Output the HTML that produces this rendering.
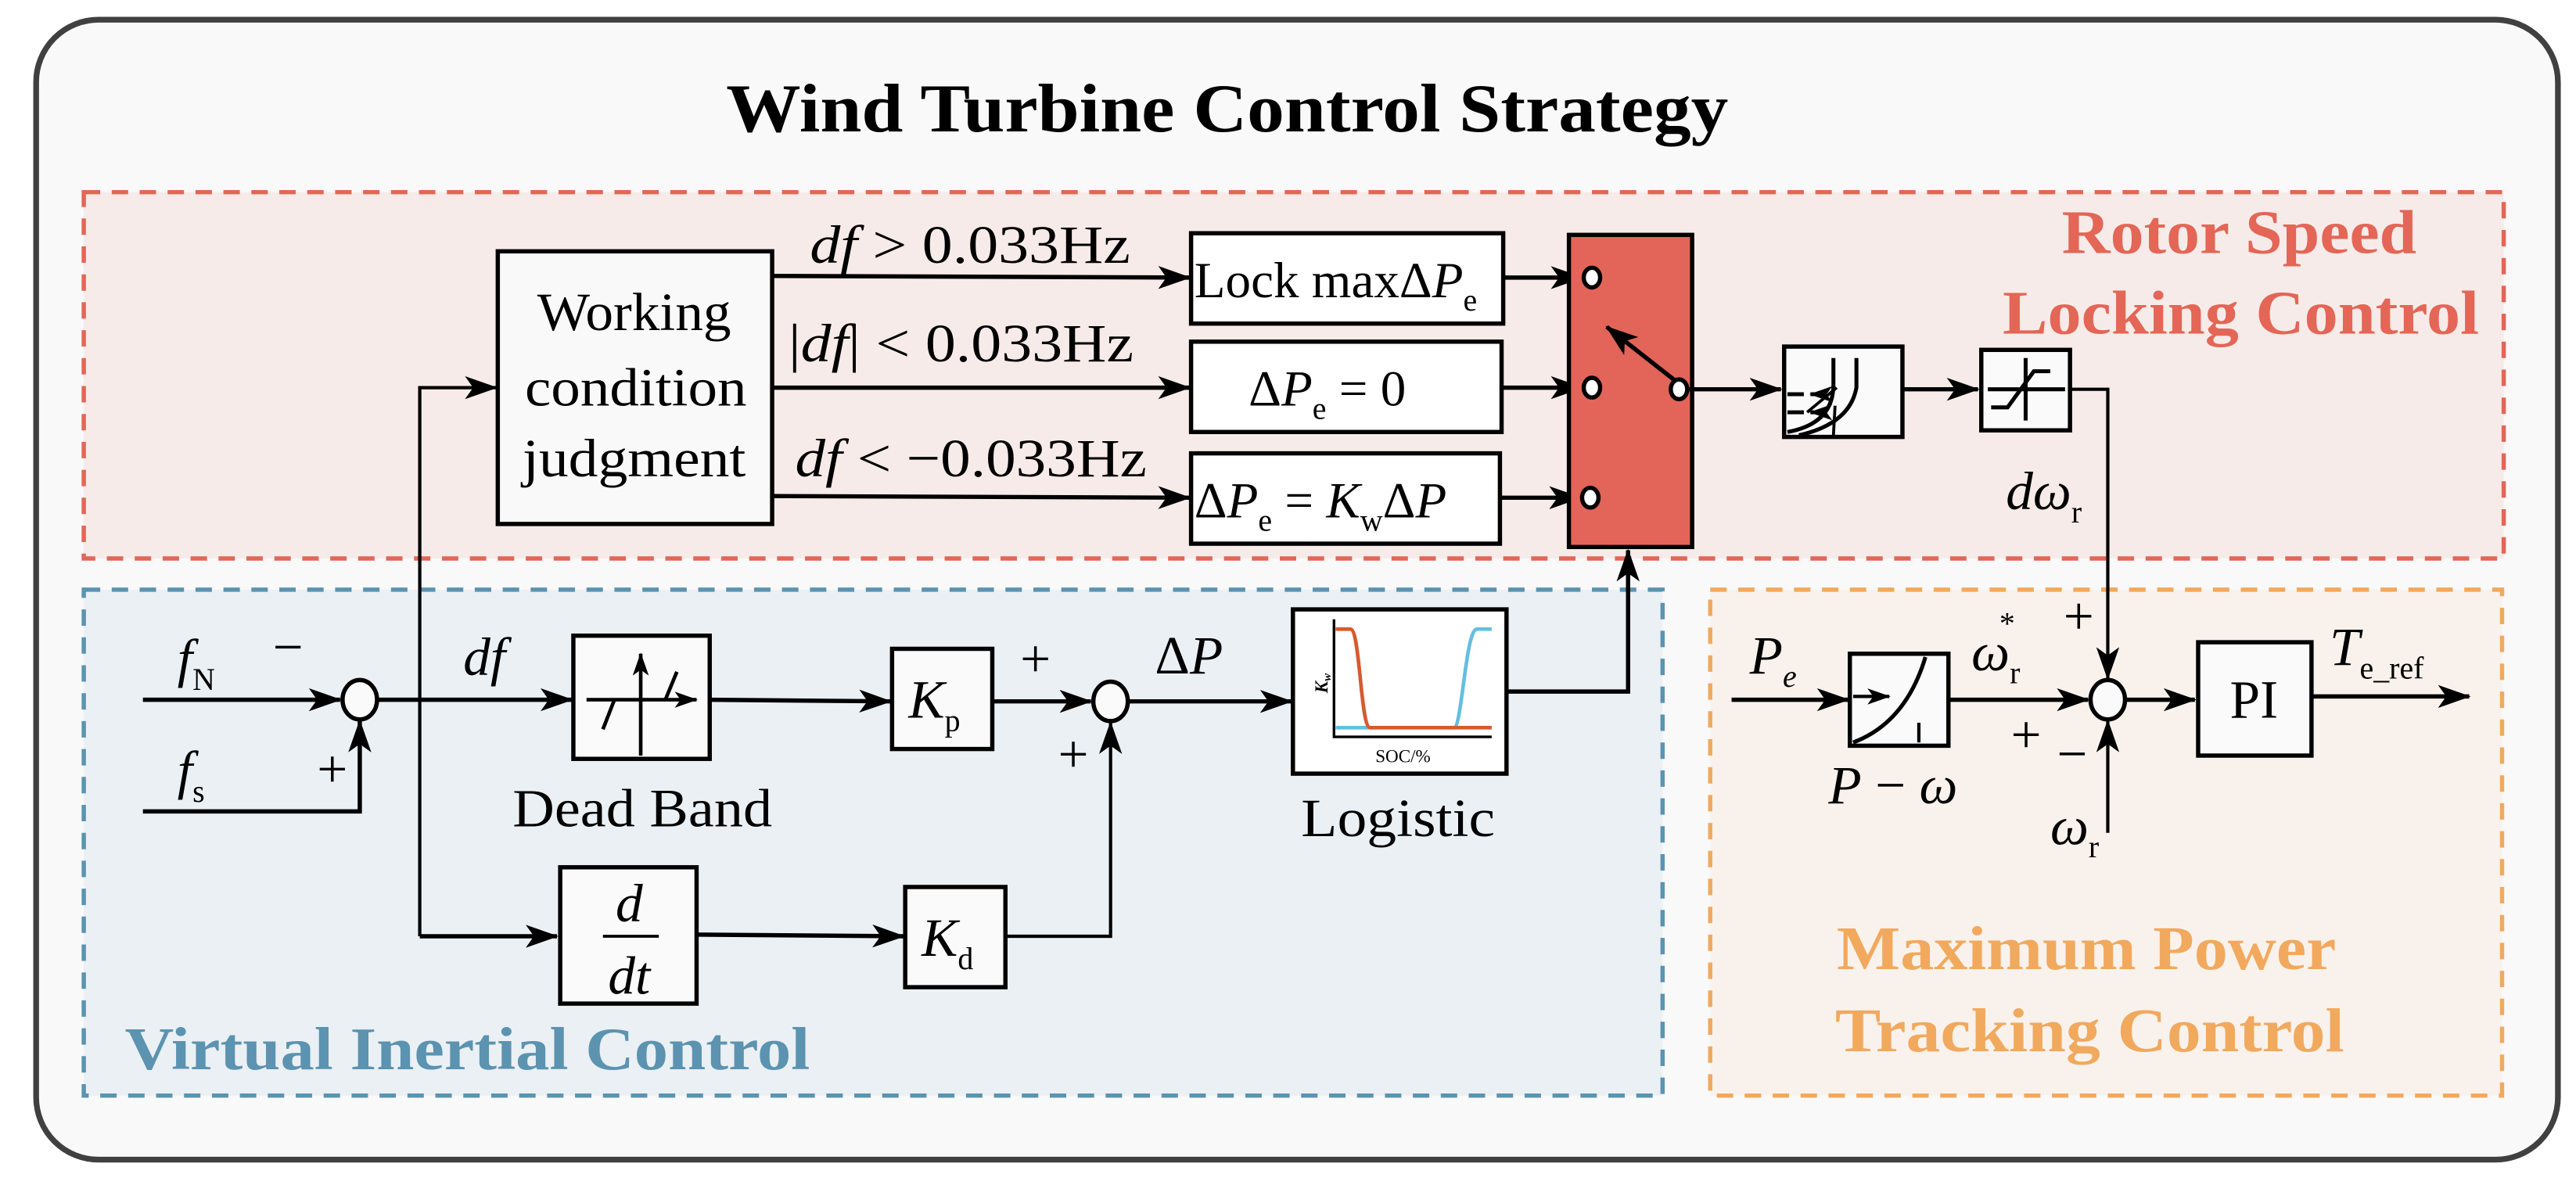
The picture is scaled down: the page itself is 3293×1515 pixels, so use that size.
<!DOCTYPE html>
<html><head><meta charset="utf-8"><style>
html,body{margin:0;padding:0;background:#fff;}
svg{display:block;}
text{font-family:"Liberation Serif","Times New Roman",Times,serif;}
</style></head><body>
<svg width="3293" height="1515" viewBox="0 0 1568 721.43" preserveAspectRatio="none" xmlns="http://www.w3.org/2000/svg" font-family="Liberation Serif, Times New Roman, serif">
<defs>
<marker id="a" viewBox="0 0 20 14" refX="19" refY="7" markerWidth="20" markerHeight="14" markerUnits="userSpaceOnUse" orient="auto"><path d="M0,0 L20,7 L0,14 L5,7z" fill="#000"/></marker>
<marker id="s" viewBox="0 0 20 14" refX="19" refY="7" markerWidth="14" markerHeight="10" markerUnits="userSpaceOnUse" orient="auto"><path d="M0,0 L20,7 L0,14 L5,7z" fill="#000"/></marker>
</defs>
<rect x="0" y="0" width="1568" height="721.43" fill="#fff"/>
<rect x="22" y="12" width="1535" height="694" rx="38" ry="38" fill="#f9f9f9" stroke="#404040" stroke-width="3.5"/>
<text x="747" y="80" font-size="42" font-weight="bold" text-anchor="middle" textLength="610" lengthAdjust="spacingAndGlyphs">Wind Turbine Control Strategy</text>

<!-- regions -->
<rect x="51" y="117" width="1473" height="223" fill="#f7ebe9" stroke="#e36656" stroke-width="2.6" stroke-dasharray="10,7"/>
<rect x="51" y="359" width="961" height="308" fill="#ebf0f4" stroke="#5b93b0" stroke-width="2.6" stroke-dasharray="10,7"/>
<rect x="1041" y="359" width="482" height="308" fill="#f9f2ec" stroke="#f1a95e" stroke-width="2.6" stroke-dasharray="10,7"/>

<text x="1363" y="154" font-size="38" font-weight="bold" fill="#e36656" text-anchor="middle" textLength="216" lengthAdjust="spacingAndGlyphs">Rotor Speed</text>
<text x="1364" y="203" font-size="38" font-weight="bold" fill="#e36656" text-anchor="middle" textLength="290" lengthAdjust="spacingAndGlyphs">Locking Control</text>
<text x="76" y="651" font-size="37" font-weight="bold" fill="#5b93b0" textLength="417" lengthAdjust="spacingAndGlyphs">Virtual Inertial Control</text>
<text x="1270" y="590" font-size="38" font-weight="bold" fill="#f1a95e" text-anchor="middle" textLength="304" lengthAdjust="spacingAndGlyphs">Maximum Power</text>
<text x="1272" y="640" font-size="38" font-weight="bold" fill="#f1a95e" text-anchor="middle" textLength="310" lengthAdjust="spacingAndGlyphs">Tracking Control</text>

<g fill="none" stroke="#000" stroke-width="2.6">
<rect x="303" y="153" width="167" height="166" fill="#f9f9f9"/>
<line x1="470" y1="168" x2="724" y2="169" marker-end="url(#a)"/>
<line x1="470" y1="236" x2="724" y2="236" marker-end="url(#a)"/>
<line x1="470" y1="302" x2="724" y2="303" marker-end="url(#a)"/>
<rect x="725" y="142" width="190" height="55" fill="#fff"/>
<rect x="725" y="208" width="189" height="55" fill="#fff"/>
<rect x="725" y="276" width="188" height="55" fill="#fff"/>
<line x1="915" y1="169" x2="963" y2="169" marker-end="url(#a)"/>
<line x1="914" y1="236" x2="963" y2="236" marker-end="url(#a)"/>
<line x1="913" y1="303" x2="962" y2="303" marker-end="url(#a)"/>
<rect x="955" y="143" width="75" height="190" fill="#e3655a"/>
<ellipse cx="969" cy="169" rx="5" ry="6" fill="#fff"/>
<ellipse cx="969" cy="236" rx="5" ry="6" fill="#fff"/>
<ellipse cx="968" cy="303" rx="5" ry="6" fill="#fff"/>
<line x1="1020" y1="232" x2="978" y2="199" marker-end="url(#a)"/>
<ellipse cx="1022" cy="237" rx="5" ry="6" fill="#fff"/>
<line x1="1028" y1="237" x2="1084" y2="237" marker-end="url(#a)"/>
<rect x="1086" y="211" width="72" height="55" fill="#fafafa"/>
<line x1="1158" y1="237" x2="1204" y2="237" marker-end="url(#a)"/>
<rect x="1206" y="213" width="54" height="49" fill="#fafafa"/>
<polyline points="1260,237 1283,237 1283,413" stroke-width="2" marker-end="url(#a)"/>
<g stroke-width="2.4">
<path d="M1116,218 L1116,234 Q1116,258 1088,263"/>
<path d="M1130,218 L1130,236 Q1126,258 1095,265"/>
<line x1="1088" y1="240" x2="1098" y2="240"/><line x1="1088" y1="251" x2="1098" y2="251"/>
<line x1="1117" y1="247" x2="1116" y2="265" stroke-width="1.8"/>
<line x1="1110" y1="240" x2="1102" y2="240" marker-end="url(#s)"/>
<line x1="1110" y1="251" x2="1102" y2="251" marker-end="url(#s)"/>
<line x1="1100" y1="251" x2="1118" y2="236" stroke-width="1.8"/>
<line x1="1210" y1="237" x2="1257" y2="237"/>
<line x1="1233" y1="218" x2="1233" y2="256"/>
<polyline points="1212,248 1222,248 1238,226 1248,226"/>
</g>
<polyline points="916,421 991,421 991,335" marker-end="url(#a)"/>

<line x1="87" y1="426" x2="207" y2="426" marker-end="url(#a)"/>
<polyline points="87,494 219,494 219,439" marker-end="url(#a)"/>
<ellipse cx="219" cy="426" rx="10.5" ry="12" fill="#fafafa"/>
<line x1="230" y1="426" x2="348" y2="426" marker-end="url(#a)"/>
<polyline points="255.5,570 255.5,236 302,236" stroke-width="2" marker-end="url(#a)"/>
<line x1="255.5" y1="570" x2="339" y2="570" marker-end="url(#a)"/>
<rect x="349" y="387" width="83" height="75" fill="#fafafa"/>
<g stroke-width="2.2">
<line x1="390" y1="460" x2="390" y2="398" marker-end="url(#s)"/>
<line x1="357" y1="426" x2="424" y2="426" marker-end="url(#s)"/>
<line x1="367" y1="444" x2="374" y2="426"/>
<line x1="405" y1="426" x2="412" y2="409"/>
</g>
<line x1="432" y1="426" x2="542" y2="427" marker-end="url(#a)"/>
<rect x="543" y="395" width="61" height="61" fill="#fafafa"/>
<line x1="604" y1="427" x2="664" y2="427" marker-end="url(#a)"/>
<ellipse cx="676" cy="427" rx="10.5" ry="12" fill="#fafafa"/>
<rect x="341" y="528" width="83" height="83" fill="#fafafa"/>
<line x1="424" y1="569" x2="550" y2="570" marker-end="url(#a)"/>
<rect x="551" y="540" width="61" height="61" fill="#fafafa"/>
<polyline points="612,570 676,570 676,440" stroke-width="2" marker-end="url(#a)"/>
<line x1="687" y1="427" x2="786" y2="427" marker-end="url(#a)"/>
<rect x="787" y="371" width="130" height="100" fill="#fff"/>
<line x1="367" y1="570" x2="401" y2="570" stroke-width="1.8"/>

<line x1="1054" y1="426" x2="1125" y2="426" marker-end="url(#a)"/>
<rect x="1126" y="398" width="60" height="56" fill="#fafafa"/>
<g stroke-width="2">
<path d="M1128,452 Q1160,440 1172,400" stroke-width="2.4"/>
<line x1="1168" y1="440" x2="1168" y2="452"/>
<line x1="1128" y1="424" x2="1150" y2="424" marker-end="url(#s)"/>
</g>
<line x1="1186" y1="426" x2="1271" y2="426" marker-end="url(#a)"/>
<ellipse cx="1283" cy="426" rx="10.5" ry="12" fill="#fafafa"/>
<line x1="1283" y1="507" x2="1283" y2="439" stroke-width="2" marker-end="url(#a)"/>
<line x1="1294" y1="426" x2="1336" y2="426" marker-end="url(#a)"/>
<rect x="1338" y="391" width="69" height="69" fill="#fafafa"/>
<line x1="1407" y1="424" x2="1503" y2="424" marker-end="url(#a)"/>
</g>

<g fill="none">
<polyline points="812,377 812,448.6 908,448.6" stroke="#000" stroke-width="1.6"/>
<path d="M813,443 L885,443 C890,443 892,383 899,383 L908,383" stroke="#63bfdf" stroke-width="2.2"/>
<path d="M813,383 L822,383 C828,383 828,443 834,443 L908,443" stroke="#d65a2e" stroke-width="2.2"/>
</g>
<text x="854" y="464" font-size="11" text-anchor="middle">SOC/%</text>
<text x="0" y="0" font-size="11" font-style="italic" font-weight="bold" transform="translate(808,422) rotate(-90)">K<tspan font-size="7" dy="2">w</tspan></text>

<g font-size="33" fill="#000">
<text x="386" y="201" text-anchor="middle" textLength="118" lengthAdjust="spacingAndGlyphs">Working</text>
<text x="387" y="247" text-anchor="middle" textLength="135" lengthAdjust="spacingAndGlyphs">condition</text>
<text x="386" y="290" text-anchor="middle" textLength="136" lengthAdjust="spacingAndGlyphs">judgment</text>
<text x="493" y="160" textLength="195" lengthAdjust="spacingAndGlyphs"><tspan font-style="italic">df</tspan> &gt; 0.033Hz</text>
<text x="480" y="220" textLength="210" lengthAdjust="spacingAndGlyphs">|<tspan font-style="italic">df</tspan>| &lt; 0.033Hz</text>
<text x="484" y="290" textLength="214" lengthAdjust="spacingAndGlyphs"><tspan font-style="italic">df</tspan> &lt; −0.033Hz</text>
<text x="727" y="181" font-size="31">Lock max<tspan>Δ</tspan><tspan font-style="italic">P</tspan><tspan font-size="19" dy="8">e</tspan></text>
<text x="760" y="247" font-size="31">Δ<tspan font-style="italic">P</tspan><tspan font-size="19" dy="8">e</tspan><tspan dy="-8"> = 0</tspan></text>
<text x="727" y="315" font-size="31">Δ<tspan font-style="italic">P</tspan><tspan font-size="19" dy="8">e</tspan><tspan dy="-8"> = </tspan><tspan font-style="italic">K</tspan><tspan font-size="19" dy="8">w</tspan><tspan dy="-8">Δ</tspan><tspan font-style="italic">P</tspan></text>
<text x="1221" y="310" font-style="italic">dω<tspan font-style="normal" font-size="19" dy="8">r</tspan></text>

<text x="108" y="412" font-style="italic">f<tspan font-style="normal" font-size="19" dy="8">N</tspan></text>
<text x="166" y="405">−</text>
<text x="108" y="480" font-style="italic">f<tspan font-style="normal" font-size="19" dy="8">s</tspan></text>
<text x="193" y="479">+</text>
<text x="282" y="411" font-style="italic">df</text>
<text x="391" y="503" text-anchor="middle" textLength="158" lengthAdjust="spacingAndGlyphs">Dead Band</text>
<text x="553" y="437" font-style="italic">K<tspan font-style="normal" font-size="19" dy="8">p</tspan></text>
<text x="621" y="412">+</text>
<text x="644" y="470">+</text>
<text x="703" y="410">Δ<tspan font-style="italic">P</tspan></text>
<text x="383" y="561" font-style="italic" text-anchor="middle">d</text>
<text x="383" y="605" font-style="italic" text-anchor="middle">dt</text>
<text x="561" y="582" font-style="italic">K<tspan font-style="normal" font-size="19" dy="8">d</tspan></text>
<text x="851" y="509" text-anchor="middle" textLength="118" lengthAdjust="spacingAndGlyphs">Logistic</text>

<text x="1065" y="410" font-style="italic">P<tspan font-size="19" dy="8">e</tspan></text>
<text x="1113" y="489" font-style="italic">P<tspan font-style="normal"> − </tspan>ω</text>
<text x="1200" y="408" font-style="italic">ω<tspan font-style="normal" font-size="19" dy="8">r</tspan></text>
<text x="1217" y="386" font-size="19">*</text>
<text x="1224" y="458">+</text>
<text x="1256" y="386">+</text>
<text x="1252" y="470">−</text>
<text x="1248" y="514" font-style="italic">ω<tspan font-style="normal" font-size="19" dy="8">r</tspan></text>
<text x="1372" y="437" text-anchor="middle">PI</text>
<text x="1418" y="405" font-style="italic">T<tspan font-style="normal" font-size="19" dy="8">e_ref</tspan></text>
</g>
</svg>
</body></html>
